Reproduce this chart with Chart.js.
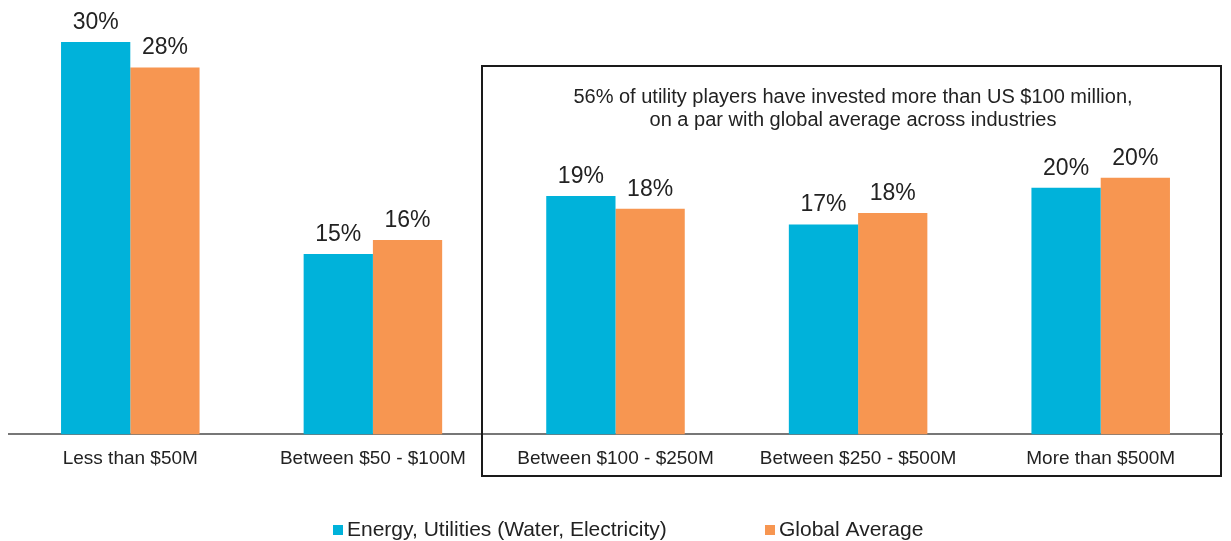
<!DOCTYPE html>
<html>
<head>
<meta charset="utf-8">
<script src="https://cdn.jsdelivr.net/npm/chart.js@4/dist/chart.umd.min.js"></script>
<style>
    html, body { margin: 0; padding: 0; background: #fff; }
    #wrap { position: relative; width: 1231px; height: 541px; }
</style>
</head>
<body>
<div id="wrap"><canvas id="investment_chart" width="1231" height="541"></canvas></div>
<script>
const categories = ["Less than $50M", "Between $50 - $100M", "Between $100 - $250M", "Between $250 - $500M", "More than $500M"];
const energyValues = [30, 15, 19.1, 17.1, 19.7];
const globalValues = [28.2, 16, 18.2, 17.9, 20.4];
const seriesNames = ["Energy, Utilities (Water, Electricity)", "Global Average"];
const calloutLines = ["56% of utility players have invested more than US $100 million,", "on a par with global average across industries"];

const BLUE = "#00b2da";
const ORANGE = "#f79651";
const TEXT = "#222";
const FONT = "'Liberation Sans', Arial, sans-serif";

// value labels above each bar
const valueLabels = {
    id: "valueLabels",
    afterDatasetsDraw(chart) {
        const ctx = chart.ctx;
        ctx.save();
        ctx.font = "23px " + FONT;
        ctx.fillStyle = TEXT;
        ctx.textAlign = "center";
        ctx.textBaseline = "alphabetic";
        chart.data.datasets.forEach((ds, i) => {
            chart.getDatasetMeta(i).data.forEach((bar, j) => {
                ctx.fillText(Math.round(ds.data[j]) + "%", bar.x, bar.y - 13);
            });
        });
        ctx.restore();
    }
};

// callout box + custom legend
const extras = {
    id: "extras",
    afterDraw(chart) {
        const ctx = chart.ctx;
        ctx.save();
        ctx.strokeStyle = "#1a1a1a";
        ctx.lineWidth = 2;
        ctx.strokeRect(482, 66, 739, 410);

        ctx.font = "20px " + FONT;
        ctx.fillStyle = TEXT;
        ctx.textAlign = "center";
        ctx.textBaseline = "middle";
        calloutLines.forEach((line, i) => ctx.fillText(line, 853, 97 + i * 23));

        ctx.font = "21px " + FONT;
        ctx.textAlign = "left";
        const items = [[333, BLUE, seriesNames[0]], [765, ORANGE, seriesNames[1]]];
        items.forEach(([x, color, name]) => {
            ctx.fillStyle = color;
            ctx.fillRect(x, 525, 10, 10);
            ctx.fillStyle = TEXT;
            ctx.fillText(name, x + 14, 530);
        });
        ctx.restore();
    }
};

new Chart(document.getElementById("investment_chart"), {
    type: "bar",
    data: {
        labels: categories,
        datasets: [
            { label: seriesNames[0], data: energyValues, backgroundColor: BLUE },
            { label: seriesNames[1], data: globalValues, backgroundColor: ORANGE },
        ],
    },
    options: {
        responsive: false,
        animation: false,
        events: [],
        layout: { padding: { left: 9, right: 9, top: 42, bottom: 66 } },
        datasets: { bar: { categoryPercentage: 0.571, barPercentage: 1 } },
        plugins: { legend: { display: false }, tooltip: { enabled: false } },
        scales: {
            x: {
                grid: { display: false },
                border: { color: "#777", width: 2 },
                ticks: { color: TEXT, font: { size: 19, family: FONT }, padding: 5, maxRotation: 0 },
            },
            y: { display: false, min: 2.26, max: 30 },
        },
    },
    plugins: [valueLabels, extras],
});
</script>
</body>
</html>
